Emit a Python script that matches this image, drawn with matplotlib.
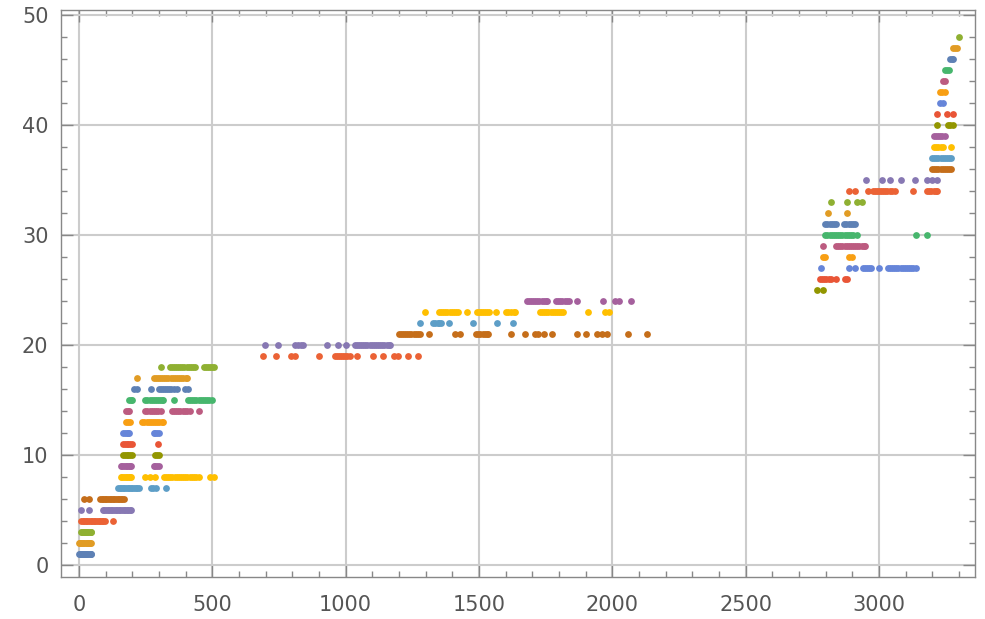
import matplotlib.pyplot as plt
from matplotlib.ticker import MultipleLocator

# x positions of the points on each level (y = level number)
lvl01 = [0, 4, 8, 12, 16, 20, 24, 28, 32, 36, 40, 44, 47]
lvl02 = [0, 4, 8, 12, 16, 20, 26, 30, 34, 38, 42, 47]
lvl03 = [8, 12, 16, 20, 24, 28, 32, 36, 40, 44, 47]
lvl04 = [8, 14, 20, 26, 32, 38, 44, 50, 56, 62, 68, 74, 80, 86, 92, 97, 127]
lvl05 = [7, 39, 90, 96, 102, 108, 114, 120, 126, 132, 138, 144, 150, 156, 162, 168, 174, 180, 186, 192, 195]
lvl06 = [19, 39, 79, 85, 91, 97, 103, 109, 115, 121, 127, 133, 139, 145, 151, 157, 163, 168]
lvl07 = [147, 153, 159, 165, 171, 177, 183, 189, 195, 201, 207, 213, 219, 225, 269, 278, 288, 328]
lvl08 = [157, 163, 169, 175, 181, 187, 193, 197, 249, 267, 287, 319, 327, 335, 343, 351, 359, 367,
         375, 383, 391, 399, 407, 415, 423, 431, 439, 449, 491, 506]
lvl09 = [157, 163, 169, 175, 181, 187, 193, 197, 280, 286, 292, 299]
lvl10 = [167, 173, 179, 185, 191, 199, 287, 293, 299]
lvl11 = [167, 173, 179, 185, 191, 199, 297]
lvl12 = [167, 173, 179, 185, 189, 280, 286, 292, 299]
lvl13 = [178, 184, 190, 238, 246, 254, 262, 270, 278, 286, 294, 302, 310, 317]
lvl14 = [178, 184, 189, 249, 257, 265, 273, 281, 289, 297, 307, 349, 357, 365, 373, 381, 389, 397,
         405, 417, 449]
lvl15 = [189, 194, 198, 249, 257, 265, 273, 281, 289, 297, 305, 311, 317, 357, 409, 417, 425, 433,
         441, 449, 457, 465, 473, 481, 489, 499]
lvl16 = [208, 218, 269, 299, 307, 315, 323, 331, 339, 347, 355, 367, 399, 409]
lvl17 = [218, 280, 288, 296, 304, 312, 320, 328, 336, 344, 352, 360, 368, 376, 384, 392, 400, 407]
lvl18 = [308, 340, 348, 356, 364, 372, 380, 388, 396, 404, 412, 420, 428, 436, 469, 477, 485, 493,
         501, 508]
lvl19 = [689, 739, 797, 810, 899, 959, 967, 975, 983, 991, 999, 1007, 1015, 1044, 1104, 1142, 1180,
         1198, 1235, 1270]
lvl20 = [697, 748, 812, 822, 832, 839, 929, 971, 1001, 1034, 1042, 1050, 1058, 1066, 1074, 1082,
         1090, 1098, 1106, 1114, 1122, 1130, 1138, 1146, 1154, 1162, 1168]
lvl21 = [1199, 1207, 1215, 1223, 1231, 1239, 1247, 1255, 1263, 1271, 1279, 1314, 1410, 1431, 1490,
         1498, 1506, 1514, 1522, 1530, 1536, 1620, 1673, 1711, 1722, 1743, 1773, 1867, 1902, 1941,
         1960, 1979, 2059, 2129]
lvl22 = [1279, 1329, 1337, 1345, 1352, 1357, 1389, 1479, 1569, 1629]
lvl23 = [1297, 1350, 1358, 1366, 1374, 1382, 1390, 1398, 1406, 1414, 1420, 1454, 1492, 1500, 1508,
         1516, 1524, 1532, 1539, 1566, 1600, 1610, 1620, 1630, 1637, 1729, 1737, 1745, 1753, 1761,
         1769, 1777, 1785, 1793, 1801, 1809, 1817, 1909, 1974, 1987]
lvl24 = [1679, 1687, 1695, 1703, 1711, 1719, 1727, 1735, 1743, 1751, 1756, 1789, 1797, 1805, 1813,
         1821, 1829, 1838, 1869, 1966, 2010, 2025, 2072]
lvl25 = [2769, 2789]
lvl26 = [2779, 2787, 2795, 2803, 2811, 2819, 2839, 2872, 2881]
lvl27 = [2782, 2889, 2910, 2939, 2947, 2955, 2963, 2969, 2999, 3033, 3041, 3049, 3057, 3065, 3073,
         3081, 3089, 3097, 3105, 3113, 3121, 3129, 3138]
lvl28 = [2789, 2797, 2889, 2899]
lvl29 = [2789, 2839, 2847, 2855, 2863, 2871, 2879, 2887, 2895, 2903, 2911, 2919, 2927, 2935, 2943,
         2949]
lvl30 = [2799, 2807, 2815, 2823, 2831, 2839, 2847, 2855, 2863, 2871, 2879, 2887, 2895, 2903, 2919,
         3139, 3179]
lvl31 = [2799, 2807, 2815, 2823, 2831, 2839, 2870, 2878, 2886, 2894, 2902, 2910]
lvl32 = [2809, 2879]
lvl33 = [2819, 2879, 2916, 2937]
lvl34 = [2889, 2910, 2960, 2976, 2984, 2992, 3000, 3008, 3016, 3024, 3032, 3040, 3048, 3059, 3129,
         3181, 3189, 3197, 3205, 3213, 3219]
lvl35 = [2950, 3010, 3041, 3082, 3134, 3179, 3198, 3216]
lvl36 = [3199, 3207, 3215, 3223, 3231, 3239, 3247, 3255, 3263, 3269]
lvl37 = [3199, 3207, 3215, 3223, 3231, 3239, 3247, 3255, 3263, 3269]
lvl38 = [3207, 3215, 3223, 3231, 3239, 3269]
lvl39 = [3206, 3214, 3222, 3230, 3238, 3249]
lvl40 = [3219, 3260, 3268, 3279]
lvl41 = [3219, 3256, 3279]
lvl42 = [3229, 3239]
lvl43 = [3229, 3237, 3249]
lvl44 = [3239, 3249]
lvl45 = [3249, 3255, 3261]
lvl46 = [3266, 3273, 3279]
lvl47 = [3279, 3285, 3291]
lvl48 = [3299]

# Mathematica default palette, cycles every 15 levels
palette = ['#5E81B5', '#E19C24', '#8FB032', '#EB6235', '#8778B3', '#C56E1A', '#5D9EC7', '#FFBF00',
           '#A5609D', '#929600', '#E95536', '#6685D9', '#F89F13', '#BC5B80', '#47B66D']

levels = [lvl01, lvl02, lvl03, lvl04, lvl05, lvl06, lvl07, lvl08, lvl09, lvl10, lvl11, lvl12,
          lvl13, lvl14, lvl15, lvl16, lvl17, lvl18, lvl19, lvl20, lvl21, lvl22, lvl23, lvl24,
          lvl25, lvl26, lvl27, lvl28, lvl29, lvl30, lvl31, lvl32, lvl33, lvl34, lvl35, lvl36,
          lvl37, lvl38, lvl39, lvl40, lvl41, lvl42, lvl43, lvl44, lvl45, lvl46, lvl47, lvl48]

fig = plt.figure(figsize=(9.85, 6.19), dpi=100)
ax = fig.add_axes([0.0619, 0.0679, 0.9279, 0.9159])

for i, xs in enumerate(levels):
    n = i + 1
    ax.scatter(xs, [n] * len(xs), s=24, color=palette[i % 15], linewidths=0, zorder=3)

ax.set_xlim(-67, 3360)
ax.set_ylim(-1.09, 50.45)

ax.xaxis.set_major_locator(MultipleLocator(500))
ax.xaxis.set_minor_locator(MultipleLocator(100))
ax.yaxis.set_major_locator(MultipleLocator(10))
ax.yaxis.set_minor_locator(MultipleLocator(2))

frame_col = '#888888'
ax.tick_params(which='both', direction='in', top=True, right=True, color=frame_col, width=1.0)
ax.tick_params(which='major', length=8.5, labelsize=15, labelcolor='#555555')
ax.tick_params(which='minor', length=4.5)
ax.tick_params(axis='x', which='major', pad=13)
ax.tick_params(axis='y', which='major', pad=9)
for sp in ax.spines.values():
    sp.set_color(frame_col)
    sp.set_linewidth(1.0)

ax.grid(True, which='major', color='#cccccc', linewidth=1.5)
ax.set_axisbelow(True)

fig.savefig('out.png', dpi=100)
